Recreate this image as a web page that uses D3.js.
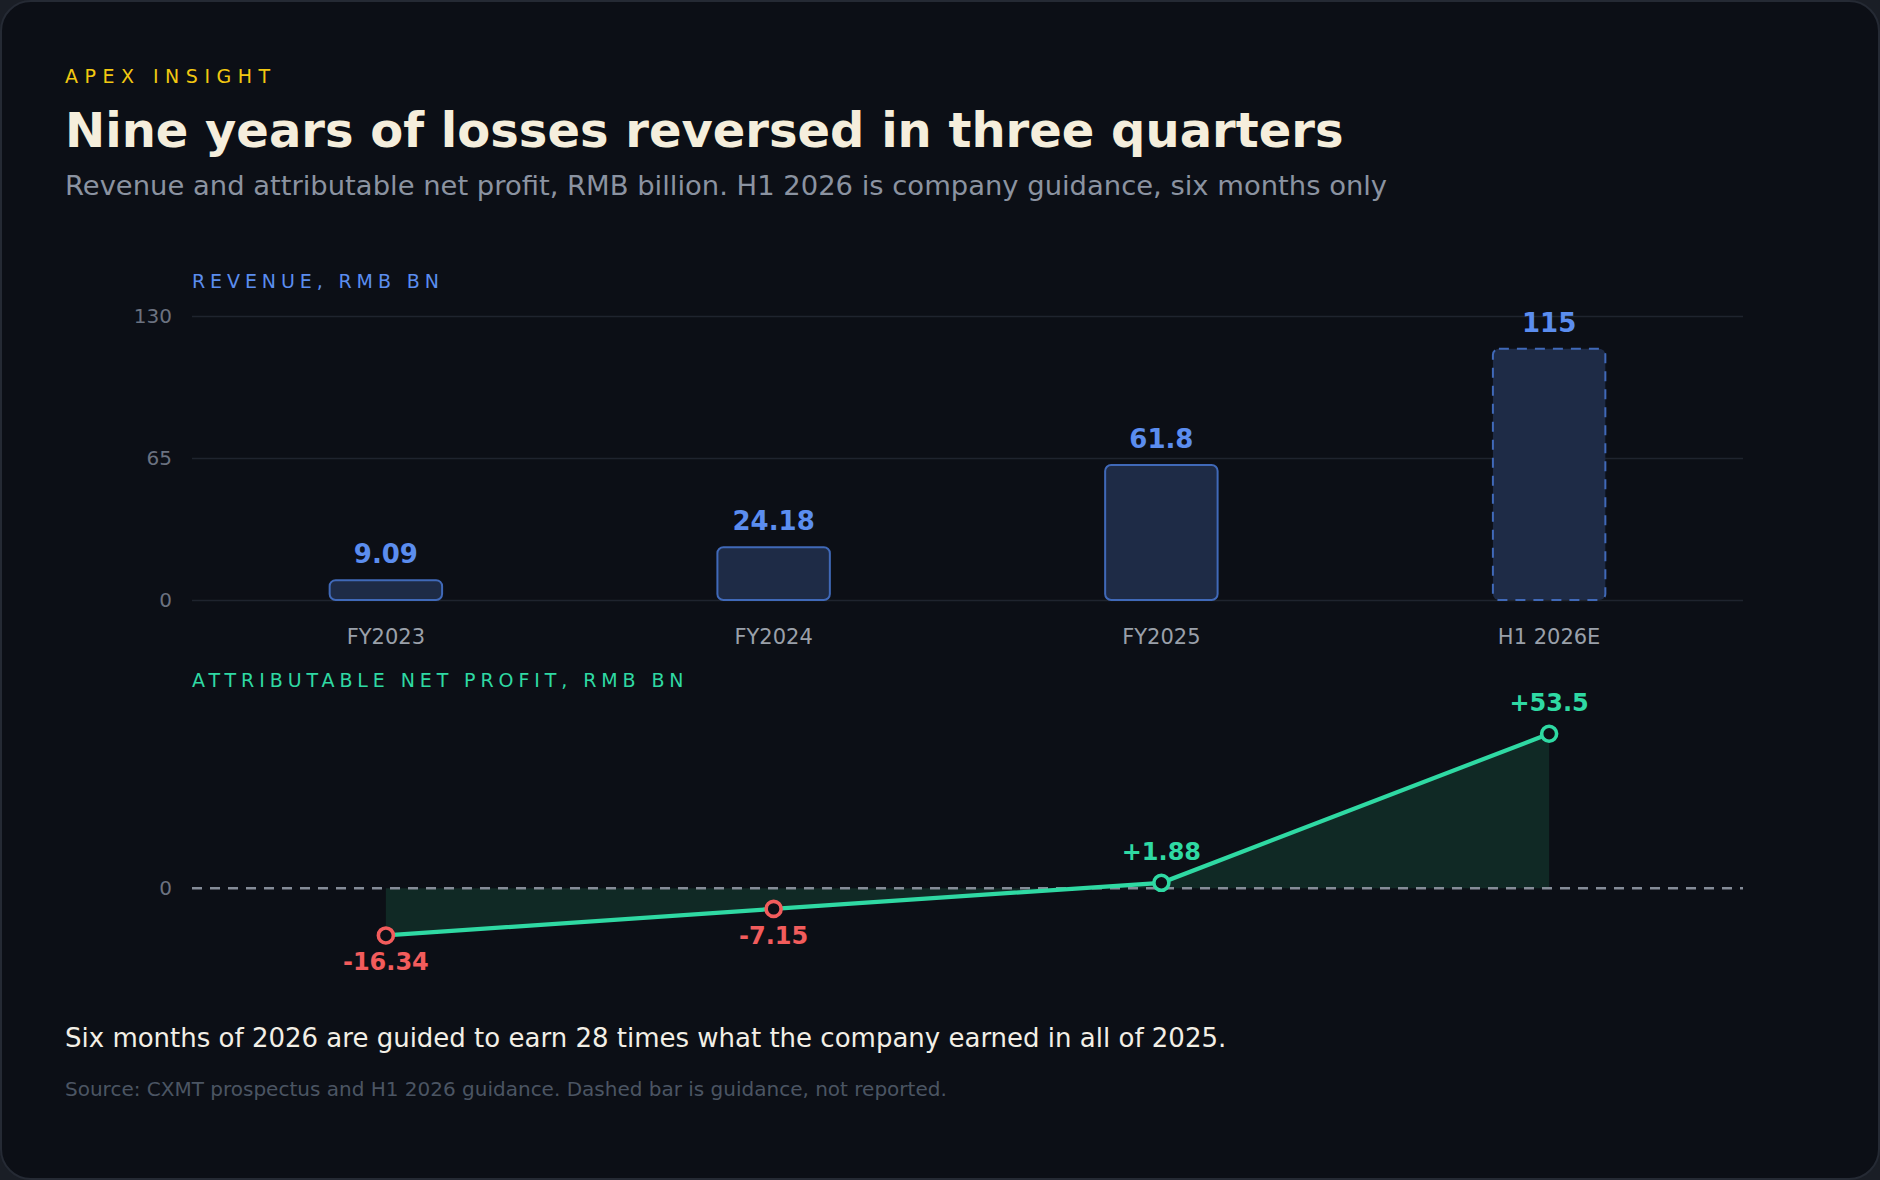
<!DOCTYPE html>
<html>
<head>
<meta charset="utf-8">
<script src="https://cdn.jsdelivr.net/npm/d3@7"></script>
<style>
  html, body { margin: 0; padding: 0; background: #1a1e26; }
  #chart { width: 1880px; height: 1180px; }
  text { font-family: "DejaVu Sans", sans-serif; }
</style>
</head>
<body>
<div id="chart"></div>
<script>
const periods = ["FY2023", "FY2024", "FY2025", "H1 2026E"];
const revenue = [9.09, 24.18, 61.8, 115];
const revenueLabels = ["9.09", "24.18", "61.8", "115"];
const guidance = [false, false, false, true];
const profit = [-16.34, -7.15, 1.88, 53.5];
const profitLabels = ["-16.34", "-7.15", "+1.88", "+53.5"];
const revenueTicks = [0, 65, 130];

const W = 1880;
const H = 1180;
const left = 192;
const right = 1743;

const svg = d3.select("#chart")
  .append("svg")
  .attr("width", W)
  .attr("height", H)
  .attr("viewBox", `0 0 ${W} ${H}`);

// card
svg.append("rect")
  .attr("x", 1).attr("y", 1)
  .attr("width", W - 2).attr("height", H - 2)
  .attr("rx", 30)
  .attr("fill", "#0c0f16")
  .attr("stroke", "#252a34")
  .attr("stroke-width", 2);

// header
svg.append("text")
  .attr("x", 65).attr("y", 83)
  .attr("fill", "#f2c811")
  .style("font-size", "19px")
  .style("letter-spacing", "6.5px")
  .text("APEX INSIGHT");

svg.append("text")
  .attr("x", 65).attr("y", 147)
  .attr("fill", "#f5eedc")
  .style("font-size", "48px")
  .style("font-weight", "bold")
  .text("Nine years of losses reversed in three quarters");

svg.append("text")
  .attr("x", 65).attr("y", 195)
  .attr("fill", "#8b93a1")
  .style("font-size", "27.4px")
  .text("Revenue and attributable net profit, RMB billion. H1 2026 is company guidance, six months only");

// shared x scale
const x = d3.scaleBand()
  .domain(periods)
  .range([left, right])
  .paddingInner(0.71)
  .paddingOuter(0.355);
const cx = (p) => x(p) + x.bandwidth() / 2;

// ---------- revenue panel
svg.append("text")
  .attr("x", left).attr("y", 288)
  .attr("fill", "#5b8def")
  .style("font-size", "19px")
  .style("letter-spacing", "4.9px")
  .text("REVENUE, RMB BN");

const yRev = d3.scaleLinear().domain([0, 130]).range([600, 316]);

const revAxis = svg.append("g")
  .attr("transform", `translate(${left},0)`)
  .call(d3.axisLeft(yRev).tickValues(revenueTicks).tickSize(-(right - left)).tickPadding(20));
revAxis.select(".domain").remove();
revAxis.selectAll(".tick line").attr("stroke", "#1f242e").attr("stroke-width", 1.5);
revAxis.selectAll(".tick text")
  .attr("fill", "#6b7280")
  .style("font-size", "20px")
  .style("font-family", "DejaVu Sans, sans-serif");

const revData = periods.map((p, i) => ({ p, v: revenue[i], label: revenueLabels[i], guide: guidance[i] }));

svg.selectAll(".bar-rev")
  .data(revData)
  .join("rect")
  .attr("class", "bar-rev")
  .attr("x", (d) => x(d.p))
  .attr("y", (d) => yRev(d.v))
  .attr("width", x.bandwidth())
  .attr("height", (d) => yRev(0) - yRev(d.v))
  .attr("rx", 6)
  .attr("fill", "#1e2b46")
  .attr("stroke", "#4069b8")
  .attr("stroke-width", 2)
  .attr("stroke-dasharray", (d) => (d.guide ? "10,8" : null));

svg.selectAll(".rev-text")
  .data(revData)
  .join("text")
  .attr("class", "rev-text")
  .attr("x", (d) => cx(d.p))
  .attr("y", (d) => yRev(d.v) - 17)
  .attr("text-anchor", "middle")
  .attr("fill", "#5b8def")
  .style("font-size", "26px")
  .style("font-weight", "bold")
  .text((d) => d.label);

svg.selectAll(".period-label")
  .data(periods)
  .join("text")
  .attr("class", "period-label")
  .attr("x", (d) => cx(d))
  .attr("y", 644)
  .attr("text-anchor", "middle")
  .attr("fill", "#9aa0aa")
  .style("font-size", "21px")
  .text((d) => d);

// ---------- profit panel
svg.append("text")
  .attr("x", left).attr("y", 687)
  .attr("fill", "#2fd9a3")
  .style("font-size", "19px")
  .style("letter-spacing", "4.9px")
  .text("ATTRIBUTABLE NET PROFIT, RMB BN");

const yPro = d3.scaleLinear().domain([-20, 60]).range([946, 715]);
const proData = periods.map((p, i) => ({ p, v: profit[i], label: profitLabels[i] }));

const area = d3.area()
  .x((d) => cx(d.p))
  .y0(yPro(0))
  .y1((d) => yPro(d.v));

svg.append("path")
  .datum(proData)
  .attr("d", area)
  .attr("fill", "#102925");

svg.append("line")
  .attr("x1", left).attr("x2", right)
  .attr("y1", yPro(0)).attr("y2", yPro(0))
  .attr("stroke", "#858c98")
  .attr("stroke-width", 2.4)
  .attr("stroke-dasharray", "10,8");

svg.append("text")
  .attr("x", 172).attr("y", yPro(0))
  .attr("dy", "0.35em")
  .attr("text-anchor", "end")
  .attr("fill", "#6b7280")
  .style("font-size", "20px")
  .text("0");

const line = d3.line()
  .x((d) => cx(d.p))
  .y((d) => yPro(d.v));

svg.append("path")
  .datum(proData)
  .attr("d", line)
  .attr("fill", "none")
  .attr("stroke", "#2fd9a3")
  .attr("stroke-width", 4.2);

const colorOf = (v) => (v < 0 ? "#f25c5c" : "#2fd9a3");

svg.selectAll(".pro-dot")
  .data(proData)
  .join("circle")
  .attr("class", "pro-dot")
  .attr("cx", (d) => cx(d.p))
  .attr("cy", (d) => yPro(d.v))
  .attr("r", 7.5)
  .attr("fill", "#0c0f16")
  .attr("stroke", (d) => colorOf(d.v))
  .attr("stroke-width", 3.6);

svg.selectAll(".pro-text")
  .data(proData)
  .join("text")
  .attr("class", "pro-text")
  .attr("x", (d) => cx(d.p))
  .attr("y", (d) => yPro(d.v) + (d.v < 0 ? 35 : -23))
  .attr("text-anchor", "middle")
  .attr("fill", (d) => colorOf(d.v))
  .style("font-size", "24px")
  .style("font-weight", "bold")
  .text((d) => d.label);

// footer
svg.append("text")
  .attr("x", 65).attr("y", 1047)
  .attr("fill", "#f3efe6")
  .style("font-size", "26px")
  .text("Six months of 2026 are guided to earn 28 times what the company earned in all of 2025.");

svg.append("text")
  .attr("x", 65).attr("y", 1096)
  .attr("fill", "#4b5563")
  .style("font-size", "20px")
  .text("Source: CXMT prospectus and H1 2026 guidance. Dashed bar is guidance, not reported.");
</script>
</body>
</html>
